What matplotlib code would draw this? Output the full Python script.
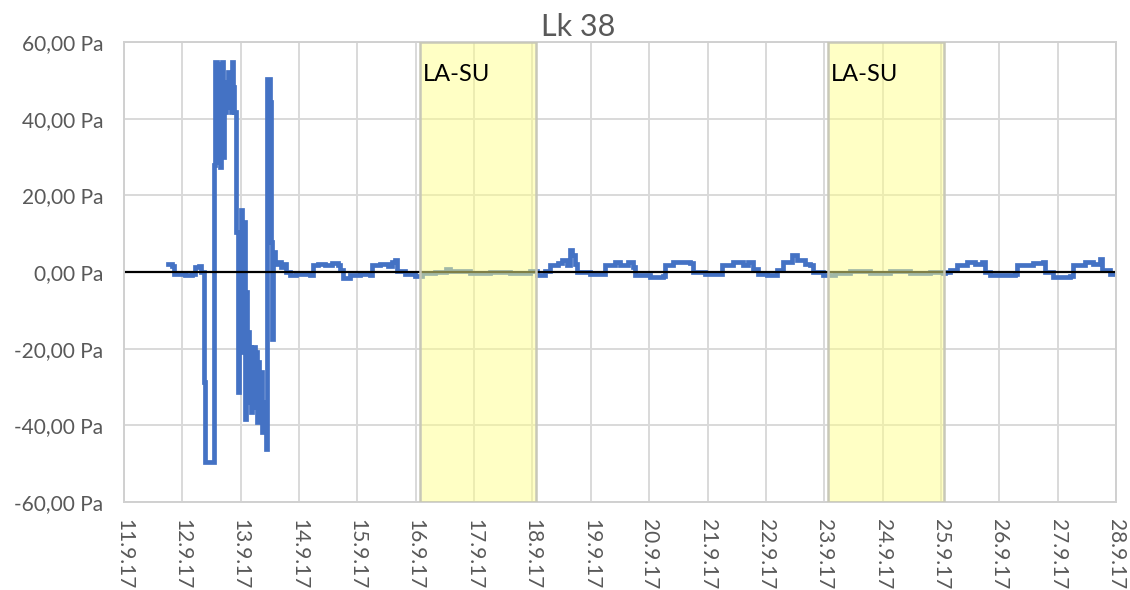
import matplotlib
matplotlib.use("Agg")
import matplotlib.pyplot as plt
from matplotlib.ticker import FuncFormatter

# Pressure trace (day of September 2017, Pa)
days = [11.754, 11.82, 11.857, 12.045, 12.165, 12.217, 12.285, 12.32, 12.371, 12.388,
        12.525, 12.542, 12.56, 12.594, 12.611, 12.628, 12.645, 12.662, 12.68, 12.697,
        12.714, 12.731, 12.748, 12.765, 12.782, 12.8, 12.817, 12.834, 12.851, 12.868,
        12.885, 12.919, 12.954, 12.971, 12.988, 13.005, 13.022, 13.04, 13.074, 13.091,
        13.108, 13.125, 13.142, 13.159, 13.176, 13.194, 13.211, 13.228, 13.245, 13.262,
        13.279, 13.296, 13.313, 13.331, 13.365, 13.399, 13.434, 13.451, 13.485, 13.502,
        13.519, 13.536, 13.554, 13.588, 13.639, 13.691, 13.725, 13.777, 13.845, 13.948,
        14.102, 14.188, 14.239, 14.325, 14.445, 14.565, 14.667, 14.702, 14.753, 14.873,
        15.045, 15.216, 15.25, 15.387, 15.524, 15.593, 15.644, 15.679, 15.816, 15.987,
        16.107, 16.33, 16.518, 16.587, 16.93, 17.273, 17.615, 17.958, 18.078, 18.215,
        18.301, 18.438, 18.506, 18.592, 18.643, 18.678, 18.729, 18.764, 18.986, 19.209,
        19.243, 19.415, 19.5, 19.637, 19.723, 19.757, 20.014, 20.237, 20.272, 20.409,
        20.563, 20.7, 20.751, 20.957, 21.214, 21.248, 21.437, 21.608, 21.694, 21.78,
        21.865, 22.02, 22.191, 22.294, 22.448, 22.533, 22.671, 22.756, 22.808, 22.98,
        23.185, 23.442, 23.785, 24.128, 24.47, 24.813, 25.036, 25.07, 25.156, 25.276,
        25.447, 25.584, 25.704, 25.756, 25.841, 26.098, 26.27, 26.304, 26.579, 26.75,
        26.784, 26.921, 27.212, 27.264, 27.47, 27.607, 27.727, 27.761, 27.898, 28.035]
pressure = [2.1, 1.6, -0.5, -0.8, -0.5, 1.3, 1.6, 0.0, -28.7, -49.6,
            -49.6, 27.9, 54.8, 54.3, 28.7, 54.3, 27.4, 44.3, 54.8, 30.0,
            47.0, 41.7, 49.6, 43.0, 52.2, 45.7, 49.6, 41.7, 54.8, 48.3,
            41.7, 10.4, -31.3, -7.8, -20.9, 16.2, -15.7, 13.0, -38.4, -5.2,
            -33.9, -15.7, -32.6, -19.6, -36.5, -22.2, -33.9, -19.6, -35.2, -20.9,
            -39.1, -23.5, -37.8, -26.1, -41.7, -33.9, -46.2, 50.4, 50.4, 44.3,
            7.8, -17.5, 5.2, 2.1, 2.6, 1.3, 2.1, 0.0, -0.8, -0.5,
            -0.5, -0.8, 1.8, 2.1, 1.8, 2.3, 1.8, 0.5, -1.5, -0.8,
            -0.5, -0.8, 1.8, 2.1, 1.6, 2.6, 3.1, 0.3, -0.5, -1.0,
            -0.3, 0.0, 0.8, 0.2, -0.3, 0.0, -0.3, 0.2, -0.8, 0.2,
            1.8, 2.3, 3.1, 1.8, 5.7, 4.4, 2.1, 0.0, -0.5, -0.5,
            1.8, 2.6, 1.8, 2.6, 1.3, -0.8, -1.3, -1.0, 1.8, 2.6,
            2.6, 2.3, 0.0, -0.5, -0.5, 1.8, 2.6, 1.8, 2.6, 0.8,
            -0.5, -0.8, 0.5, 2.6, 4.4, 3.1, 2.1, 1.8, 0.0, -0.8,
            -0.3, 0.2, -0.2, 0.3, -0.3, 0.0, -0.3, 0.0, 0.5, 1.8,
            2.6, 2.1, 2.6, 0.0, -0.8, -0.8, -0.5, 1.8, 2.3, 2.6,
            0.0, -1.3, -1.0, 1.8, 2.6, 2.1, 3.5, 0.5, -0.5, -1.0]

# weekend shading (LA-SU = Saturday-Sunday)
band_starts = [16.07, 23.07]
band_ends = [18.06, 25.05]
band_label = "LA-SU"

x_ticks = list(range(11, 29))
x_labels = [f"{d}.9.17" for d in x_ticks]
y_ticks = [-60, -40, -20, 0, 20, 40, 60]

plt.rcParams['font.family'] = ['Lato', 'DejaVu Sans']

fig = plt.figure(figsize=(11.3, 5.9), dpi=100)
ax = fig.add_axes([0.1097, 0.149, 0.8779, 0.7798])

# logger trace looks blocky, so draw it as steps
ax.plot(days, pressure, color='#4472C4', linewidth=3.4, drawstyle='steps-post',
        solid_joinstyle='miter', zorder=2)
ax.axhline(0, color='black', linewidth=1.6, zorder=2.5)

for s, e in zip(band_starts, band_ends):
    ax.axvspan(s, e, facecolor=(1.0, 1.0, 0.55, 0.5), edgecolor='#c8c8b8', linewidth=1.8, zorder=3)
    ax.text(s + 0.05, 51.5, band_label, fontsize=17, color='black', ha='left', va='center', zorder=4)

ax.set_xlim(11, 28)
ax.set_ylim(-60, 60)
ax.set_xticks(x_ticks)
ax.set_xticklabels(x_labels, rotation=-90, fontsize=15, color='#595959')
ax.set_yticks(y_ticks)
ax.yaxis.set_major_formatter(FuncFormatter(lambda v, p: f"{v:.2f}".replace('.', ',') + " Pa"))
ax.tick_params(axis='y', labelsize=15, labelcolor='#595959', length=0, pad=15)
ax.tick_params(axis='x', length=0, pad=12)

ax.grid(True, color='#d9d9d9', linewidth=1.4, zorder=0)
ax.set_axisbelow(True)
for sp in ax.spines.values():
    sp.set_color('#d0d0d0')
    sp.set_linewidth(1.4)

fig.text(0.512, 0.955, "Lk 38", ha='center', va='center', fontsize=22, color='#595959')

plt.savefig("out.png", dpi=100)
